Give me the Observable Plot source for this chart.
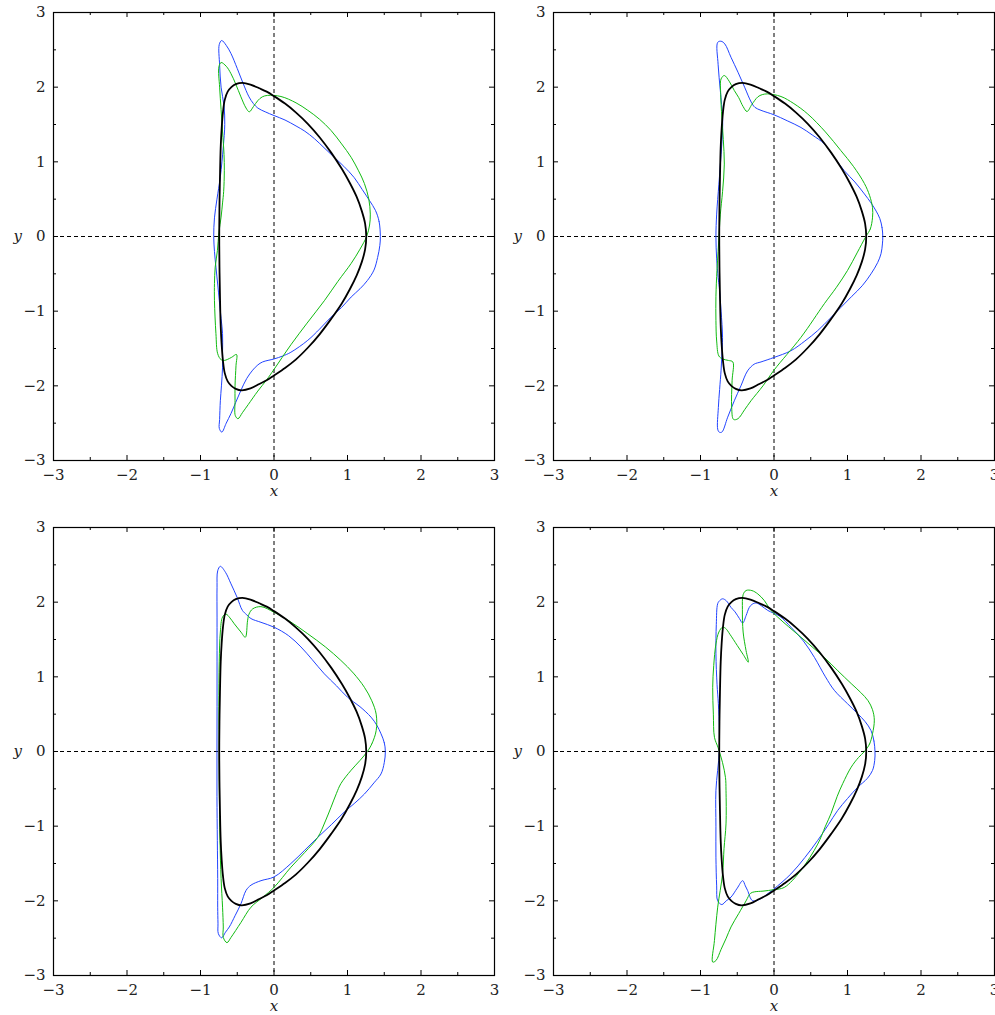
<!DOCTYPE html>
<html><head><meta charset="utf-8">
<script src="https://cdn.jsdelivr.net/npm/d3@7"></script>
<script src="https://cdn.jsdelivr.net/npm/@observablehq/plot@0.6"></script>
<style>
html,body{margin:0;padding:0;background:#fff;overflow:hidden;}
#wrap{position:relative;width:995px;height:1015px;overflow:hidden;}
.panel{position:absolute;}
.panel svg, .panel svg text{font-family:"DejaVu Serif","Liberation Serif","Noto Serif","Times New Roman",serif !important;}
</style></head><body><div id="wrap"></div>
<script>
const majorTicks = [-3, -2, -1, 0, 1, 2, 3];
const minorTicks = [-2.5, -1.5, -0.5, 0.5, 1.5, 2.5];

// Black reference closed orbit (same in every panel)
const limitCycle = [
  [1.255,0],[1.24,0.17],[1.195,0.34],[1.125,0.53],[1.03,0.72],[0.92,0.91],[0.78,1.12],[0.62,1.33],[0.46,1.51],[0.3,1.66],[0.15,1.78],[0,1.88],[-0.1,1.94],[-0.2,1.985],[-0.32,2.035],[-0.43,2.058],[-0.52,2.04],[-0.58,2.0],[-0.63,1.94],[-0.67,1.83],[-0.695,1.66],[-0.712,1.45],[-0.725,1.2],[-0.735,0.8],[-0.742,0.4],[-0.745,0],
  [-0.742,-0.4],[-0.735,-0.8],[-0.725,-1.2],[-0.712,-1.45],[-0.695,-1.66],[-0.67,-1.83],[-0.63,-1.94],[-0.58,-2.0],[-0.52,-2.04],[-0.44,-2.06],[-0.32,-2.035],[-0.2,-1.975],[-0.1,-1.925],[0,-1.86],[0.15,-1.76],[0.3,-1.645],[0.46,-1.49],[0.62,-1.31],[0.78,-1.1],[0.92,-0.9],[1.03,-0.71],[1.125,-0.52],[1.195,-0.34],[1.24,-0.17]
];

// Panel 1 (top left)
const blue1 = [
  [1.447,0],[1.43,0.2],[1.38,0.35],[1.30,0.48],[1.2,0.63],[1.09,0.79],[0.95,0.94],[0.82,1.06],[0.68,1.19],[0.55,1.31],[0.42,1.41],[0.3,1.48],[0.15,1.56],[0,1.62],[-0.12,1.67],[-0.22,1.72],[-0.28,1.78],[-0.34,1.87],[-0.42,2.05],[-0.5,2.25],[-0.585,2.45],[-0.65,2.56],[-0.712,2.625],[-0.745,2.57],[-0.74,2.3],[-0.72,2.0],[-0.68,1.75],[-0.67,1.5],[-0.69,1.2],[-0.73,0.8],[-0.776,0.5],[-0.81,0.25],[-0.82,0],
  [-0.81,-0.2],[-0.79,-0.41],[-0.765,-0.65],[-0.744,-0.86],[-0.72,-1.1],[-0.70,-1.30],[-0.70,-1.55],[-0.70,-1.75],[-0.715,-2.0],[-0.73,-2.2],[-0.74,-2.45],[-0.744,-2.57],[-0.71,-2.62],[-0.65,-2.5],[-0.585,-2.37],[-0.52,-2.22],[-0.45,-2.06],[-0.37,-1.9],[-0.29,-1.79],[-0.22,-1.72],[-0.155,-1.68],[0,-1.64],[0.12,-1.6],[0.23,-1.55],[0.46,-1.39],[0.62,-1.24],[0.776,-1.08],[0.92,-0.95],[1.05,-0.81],[1.17,-0.7],[1.27,-0.59],[1.36,-0.45],[1.41,-0.28],[1.44,-0.12]
];
const green1 = [
  [1.26,0],[1.30,0.15],[1.31,0.3],[1.29,0.5],[1.23,0.71],[1.15,0.88],[1.05,1.06],[0.92,1.24],[0.776,1.42],[0.62,1.57],[0.46,1.69],[0.3,1.79],[0.095,1.875],[-0.086,1.89],[-0.16,1.87],[-0.22,1.82],[-0.28,1.74],[-0.336,1.67],[-0.38,1.72],[-0.45,1.87],[-0.52,2.04],[-0.585,2.18],[-0.65,2.28],[-0.72,2.33],[-0.75,2.27],[-0.74,2.0],[-0.72,1.7],[-0.70,1.4],[-0.68,1.1],[-0.676,0.88],[-0.685,0.6],[-0.70,0.45],[-0.72,0.26],[-0.75,0.05],[-0.77,-0.19],[-0.80,-0.41],[-0.81,-0.63],[-0.81,-0.86],[-0.79,-1.3],[-0.766,-1.57],[-0.72,-1.65],[-0.676,-1.66],[-0.58,-1.62],[-0.51,-1.58],[-0.517,-1.73],[-0.53,-2.0],[-0.53,-2.2],[-0.526,-2.40],[-0.49,-2.44],[-0.43,-2.36],[-0.35,-2.25],[-0.22,-2.07],[-0.1,-1.92],[0,-1.78],[0.23,-1.45],[0.45,-1.16],[0.685,-0.86],[0.87,-0.6],[1.05,-0.36],[1.17,-0.17]
];

// Panel 2 (top right)
const blue2 = [
  [1.48,0],[1.47,0.12],[1.44,0.24],[1.39,0.34],[1.32,0.45],[1.23,0.57],[1.1,0.73],[0.957,0.88],[0.82,1.06],[0.685,1.24],[0.52,1.36],[0.367,1.46],[0.18,1.55],[0,1.63],[-0.177,1.69],[-0.26,1.73],[-0.31,1.8],[-0.40,2.0],[-0.49,2.2],[-0.585,2.40],[-0.67,2.58],[-0.72,2.615],[-0.766,2.60],[-0.76,2.3],[-0.73,1.95],[-0.70,1.6],[-0.70,1.42],[-0.72,1.1],[-0.75,0.7],[-0.78,0.3],[-0.79,0],
  [-0.78,-0.3],[-0.76,-0.55],[-0.744,-0.68],[-0.72,-1.0],[-0.70,-1.35],[-0.71,-1.6],[-0.72,-1.79],[-0.74,-2.05],[-0.757,-2.29],[-0.766,-2.58],[-0.745,-2.62],[-0.71,-2.62],[-0.63,-2.42],[-0.54,-2.2],[-0.45,-2.0],[-0.36,-1.8],[-0.27,-1.71],[-0.177,-1.68],[0,-1.62],[0.23,-1.53],[0.42,-1.4],[0.595,-1.26],[0.76,-1.1],[0.91,-0.95],[1.06,-0.8],[1.2,-0.66],[1.32,-0.5],[1.41,-0.35],[1.456,-0.23],[1.475,-0.1]
];
const green2 = [
  [1.25,0],[1.31,0.1],[1.34,0.25],[1.34,0.39],[1.30,0.55],[1.23,0.71],[1.08,0.94],[0.91,1.15],[0.7,1.4],[0.46,1.64],[0.27,1.78],[0.095,1.875],[-0.086,1.91],[-0.16,1.9],[-0.22,1.87],[-0.30,1.77],[-0.367,1.674],[-0.42,1.74],[-0.48,1.86],[-0.54,1.955],[-0.61,2.08],[-0.676,2.156],[-0.72,2.11],[-0.725,1.9],[-0.71,1.6],[-0.69,1.3],[-0.676,0.97],[-0.70,0.6],[-0.73,0.3],[-0.744,0.08],[-0.76,-0.2],[-0.776,-0.455],[-0.79,-0.8],[-0.79,-1.125],[-0.78,-1.4],[-0.75,-1.6],[-0.70,-1.64],[-0.62,-1.66],[-0.56,-1.68],[-0.57,-1.93],[-0.576,-2.29],[-0.55,-2.45],[-0.49,-2.44],[-0.40,-2.32],[-0.313,-2.2],[-0.15,-2.0],[0,-1.79],[0.367,-1.35],[0.685,-0.90],[0.85,-0.68],[1.0,-0.455],[1.13,-0.22]
];

// Panel 3 (bottom left)
const blue3 = [
  [1.515,0],[1.50,0.12],[1.456,0.237],[1.40,0.35],[1.32,0.46],[1.17,0.6],[1.0,0.727],[0.85,0.88],[0.685,1.04],[0.52,1.23],[0.367,1.40],[0.2,1.55],[0,1.665],[-0.177,1.73],[-0.313,1.78],[-0.37,1.83],[-0.43,1.89],[-0.50,2.06],[-0.585,2.245],[-0.66,2.4],[-0.73,2.48],[-0.766,2.42],[-0.775,2.2],[-0.775,1.8],[-0.775,1.2],[-0.775,0.6],[-0.776,0],
  [-0.776,-0.6],[-0.771,-1.19],[-0.766,-1.7],[-0.766,-2.085],[-0.762,-2.3],[-0.757,-2.44],[-0.712,-2.495],[-0.66,-2.42],[-0.608,-2.35],[-0.53,-2.2],[-0.45,-2.04],[-0.38,-1.86],[-0.313,-1.79],[-0.177,-1.73],[0,-1.68],[0.23,-1.50],[0.42,-1.32],[0.595,-1.15],[0.78,-0.98],[0.957,-0.81],[1.1,-0.69],[1.23,-0.57],[1.36,-0.42],[1.456,-0.30],[1.50,-0.15]
];
const green3 = [
  [1.27,0],[1.33,0.1],[1.39,0.28],[1.39,0.50],[1.33,0.68],[1.23,0.86],[1.08,1.05],[0.91,1.22],[0.7,1.4],[0.46,1.576],[0.22,1.74],[0,1.865],[-0.177,1.94],[-0.29,1.91],[-0.34,1.84],[-0.36,1.75],[-0.39,1.53],[-0.45,1.6],[-0.54,1.71],[-0.60,1.79],[-0.653,1.84],[-0.70,1.80],[-0.73,1.6],[-0.745,1.2],[-0.75,0.6],[-0.745,0],
  [-0.744,-0.5],[-0.735,-1.19],[-0.72,-1.7],[-0.70,-2.085],[-0.69,-2.35],[-0.69,-2.49],[-0.64,-2.56],[-0.585,-2.49],[-0.45,-2.29],[-0.313,-2.085],[-0.15,-1.95],[0,-1.82],[0.23,-1.55],[0.42,-1.35],[0.595,-1.15],[0.7,-0.93],[0.776,-0.746],[0.85,-0.56],[0.91,-0.43],[1.05,-0.25],[1.17,-0.12]
];

// Panel 4 (bottom right)
const blue4 = [
  [1.374,0],[1.36,0.14],[1.32,0.28],[1.24,0.4],[1.14,0.505],[1.0,0.64],[0.82,0.82],[0.7,1.0],[0.55,1.26],[0.4,1.48],[0.23,1.665],[0.08,1.81],[-0.086,1.89],[-0.17,1.95],[-0.245,1.99],[-0.30,1.97],[-0.336,1.93],[-0.38,1.82],[-0.426,1.72],[-0.47,1.78],[-0.53,1.87],[-0.585,1.93],[-0.65,2.02],[-0.70,2.045],[-0.74,2.02],[-0.766,1.98],[-0.785,1.7],[-0.79,1.31],[-0.775,0.9],[-0.757,0.64],[-0.744,0.3],[-0.744,0],
  [-0.79,-0.52],[-0.79,-1.0],[-0.79,-1.415],[-0.78,-1.8],[-0.766,-2.0],[-0.71,-2.05],[-0.65,-2.0],[-0.585,-1.95],[-0.50,-1.83],[-0.426,-1.73],[-0.39,-1.8],[-0.36,-1.86],[-0.29,-2.0],[-0.177,-1.97],[-0.08,-1.9],[0,-1.84],[0.23,-1.64],[0.42,-1.42],[0.595,-1.19],[0.74,-0.98],[0.866,-0.79],[1.0,-0.63],[1.14,-0.478],[1.27,-0.36],[1.34,-0.254],[1.37,-0.12]
];
const green4 = [
  [1.23,0],[1.3,0.1],[1.34,0.237],[1.365,0.42],[1.34,0.56],[1.28,0.68],[1.18,0.79],[1.05,0.91],[0.87,1.08],[0.685,1.26],[0.52,1.4],[0.367,1.53],[0.2,1.67],[0.05,1.80],[-0.05,1.9],[-0.13,2.02],[-0.22,2.11],[-0.30,2.155],[-0.38,2.156],[-0.42,2.1],[-0.43,1.9],[-0.42,1.6],[-0.38,1.35],[-0.35,1.196],[-0.42,1.3],[-0.50,1.42],[-0.60,1.57],[-0.66,1.65],[-0.70,1.665],[-0.75,1.6],[-0.79,1.44],[-0.82,1.15],[-0.834,0.86],[-0.825,0.5],[-0.81,0.19],[-0.76,0.05],
  [-0.70,-0.15],[-0.66,-0.35],[-0.653,-0.52],[-0.653,-0.97],[-0.68,-1.3],[-0.70,-1.64],[-0.766,-2.085],[-0.81,-2.53],[-0.834,-2.82],[-0.79,-2.80],[-0.72,-2.65],[-0.65,-2.5],[-0.585,-2.35],[-0.48,-2.17],[-0.38,-2.0],[-0.32,-1.9],[-0.268,-1.88],[-0.15,-1.87],[0,-1.85],[0.14,-1.82],[0.367,-1.59],[0.595,-1.24],[0.70,-1.0],[0.776,-0.83],[0.86,-0.6],[0.935,-0.43],[1.05,-0.21],[1.15,-0.08]
];

const panels = [
  {blue: blue1, green: green1, left: 0,   top: 0,   width: 500, marginRight: 6},
  {blue: blue2, green: green2, left: 500, top: 0,   width: 495, marginRight: 1},
  {blue: blue3, green: green3, left: 0,   top: 515, width: 500, marginRight: 6},
  {blue: blue4, green: green4, left: 500, top: 515, width: 495, marginRight: 1}
];

const fmt = d => d < 0 ? "\u2212" + Math.abs(d) : String(d);
const plotH = 448, plotW = 441;
const fontFam = "DejaVu Serif, Liberation Serif, serif";

const wrap = document.getElementById("wrap");
for (const p of panels) {
  const chart = Plot.plot({
    width: p.width,
    height: 515,
    marginLeft: 53,
    marginRight: p.marginRight,
    marginTop: 12,
    marginBottom: 55,
    style: "font-family: 'DejaVu Serif', 'Liberation Serif', serif; font-size: 15px; color: #222; background: white; overflow: visible;",
    x: {domain: [-3, 3], axis: null},
    y: {domain: [-3, 3], axis: null},
    marks: [
      Plot.ruleX([0], {stroke: "black", strokeWidth: 1, strokeDasharray: "4,3"}),
      Plot.ruleY([0], {stroke: "black", strokeWidth: 1, strokeDasharray: "4,3"}),
      Plot.line(p.blue, {x: d => d[0], y: d => d[1], curve: "catmull-rom-closed", stroke: "#2244ff", strokeWidth: 1}),
      Plot.line(p.green, {x: d => d[0], y: d => d[1], curve: "catmull-rom-closed", stroke: "#11bb11", strokeWidth: 1}),
      Plot.line(limitCycle, {x: d => d[0], y: d => d[1], curve: "catmull-rom-closed", stroke: "black", strokeWidth: 1.8}),
      // inward ticks on all four sides
      Plot.ruleX(majorTicks, {x: d => d, insetTop: plotH - 5, stroke: "black"}),
      Plot.ruleX(minorTicks, {x: d => d, insetTop: plotH - 3, stroke: "black"}),
      Plot.ruleX(majorTicks, {x: d => d, insetBottom: plotH - 5, stroke: "black"}),
      Plot.ruleX(minorTicks, {x: d => d, insetBottom: plotH - 3, stroke: "black"}),
      Plot.ruleY(majorTicks, {y: d => d, insetRight: plotW - 5, stroke: "black"}),
      Plot.ruleY(minorTicks, {y: d => d, insetRight: plotW - 3, stroke: "black"}),
      Plot.ruleY(majorTicks, {y: d => d, insetLeft: plotW - 5, stroke: "black"}),
      Plot.ruleY(minorTicks, {y: d => d, insetLeft: plotW - 3, stroke: "black"}),
      Plot.frame({stroke: "black", strokeWidth: 1.2}),
      Plot.axisX(majorTicks, {tickSize: 0, tickPadding: 9, tickFormat: fmt, fontSize: 15, fontFamily: fontFam, fill: "#222"}),
      Plot.axisY(majorTicks, {tickSize: 0, tickPadding: 8, tickFormat: fmt, fontSize: 15, fontFamily: fontFam, fill: "#222"}),
      Plot.text(["x"], {text: d => d, frameAnchor: "bottom", dy: 35, fontStyle: "italic", fontSize: 15, fontFamily: fontFam, fill: "#222"}),
      Plot.text(["y"], {text: d => d, frameAnchor: "left", dx: -40, fontStyle: "italic", fontSize: 15, fontFamily: fontFam, fill: "#222"})
    ]
  });
  chart.querySelectorAll("text").forEach(t => {
    t.setAttribute("font-family", fontFam);
    t.style.fontFamily = "'DejaVu Serif', 'Liberation Serif', serif";
  });
  const div = document.createElement("div");
  div.className = "panel";
  div.style.left = p.left + "px";
  div.style.top = p.top + "px";
  div.appendChild(chart);
  wrap.appendChild(div);
}
</script>
</body></html>
